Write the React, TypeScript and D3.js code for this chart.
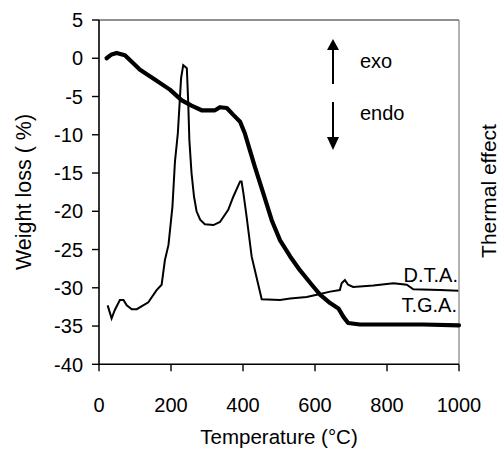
import React from "react";
import * as d3 from "d3";

const xTicks = [0, 200, 400, 600, 800, 1000];
const yTicks = [5, 0, -5, -10, -15, -20, -25, -30, -35, -40];

const tgaTemp = [21, 35, 49, 72, 114, 156, 197, 230, 257, 285, 322, 336, 355, 373, 392, 405, 419, 433, 456, 480, 503, 531, 558, 591, 614, 642, 665, 679, 692, 725, 800, 900, 1000];
const tgaWeight = [0, 0.5, 0.7, 0.4, -1.5, -2.8, -4.1, -5.5, -6.2, -6.8, -6.8, -6.4, -6.5, -7.4, -8.3, -9.8, -12, -14.2, -17.6, -21.2, -23.8, -25.9, -27.7, -29.6, -30.9, -32, -32.7, -33.8, -34.6, -34.8, -34.8, -34.8, -34.9];

const dtaTemp = [24, 35, 44, 58, 68, 77, 91, 105, 137, 160, 174, 183, 193, 204, 211, 219, 228, 234, 244, 248, 251, 257, 264, 271, 281, 294, 318, 336, 359, 373, 392, 396, 401, 410, 424, 433, 452, 503, 531, 577, 605, 642, 669, 674, 683, 692, 706, 762, 818, 855, 873, 947, 998];
const dtaValue = [-32.3, -34, -32.9, -31.6, -31.6, -32.3, -32.8, -32.8, -31.9, -30.3, -29.6, -26.4, -24.4, -19.4, -13.5, -9.8, -2.6, -0.9, -1.3, -6, -10.7, -15, -18.1, -20, -21.1, -21.7, -21.8, -21.4, -19.8, -18.1, -16.1, -16.1, -17.6, -20.7, -25.9, -27.7, -31.5, -31.6, -31.4, -31.2, -30.9, -30.5, -30.3, -29.4, -29, -29.6, -29.9, -29.7, -29.4, -29.6, -30.2, -30.3, -30.4];

const W = 501;
const H = 449;
const left = 99;
const right = 459;
const top = 20;
const bottom = 364.3;
const font = "'Liberation Sans', Arial, sans-serif";

export default function App() {
  const x = d3.scaleLinear().domain([0, 1000]).range([left, right]);
  const y = d3.scaleLinear().domain([-40, 5]).range([bottom, top]);

  const tga = d3.line<number>().x((d, i) => x(tgaTemp[i])).y((d) => y(d))(tgaWeight) || "";
  const dta = d3.line<number>().x((d, i) => x(dtaTemp[i])).y((d) => y(d))(dtaValue) || "";

  const ax = x(650);
  return (
    <svg width={W} height={H} style={{ position: "absolute", left: 0, top: 0, background: "#fff" }} fontFamily={font}>
      {/* frame */}
      <line x1={left} x2={right} y1={top} y2={top} stroke="#222" strokeWidth={1} />
      <line x1={right} x2={right} y1={top} y2={bottom} stroke="#666" strokeWidth={1} />
      {/* curves */}
      <path d={dta} fill="none" stroke="#000" strokeWidth={2} strokeLinejoin="miter" />
      <path d={tga} fill="none" stroke="#000" strokeWidth={4.2} strokeLinejoin="round" strokeLinecap="round" />
      {/* axes */}
      <line x1={left} x2={left} y1={top} y2={bottom} stroke="#000" strokeWidth={1.6} />
      <line x1={left} x2={right} y1={bottom} y2={bottom} stroke="#000" strokeWidth={1.6} />
      {yTicks.map((t) => (
        <g key={"y" + t}>
          <line x1={left - 7} x2={left} y1={y(t)} y2={y(t)} stroke="#000" strokeWidth={1.4} />
          <text x={left - 16} y={y(t)} dy="0.36em" textAnchor="end" fontSize={20} fill="#000">{t}</text>
        </g>
      ))}
      {xTicks.map((t) => (
        <g key={"x" + t}>
          <line x1={x(t)} x2={x(t)} y1={bottom} y2={bottom + 7} stroke="#000" strokeWidth={1.4} />
          <text x={x(t)} y={412} textAnchor="middle" fontSize={20} fill="#000">{t}</text>
        </g>
      ))}
      {/* axis titles */}
      <text x={279} y={444} textAnchor="middle" fontSize={20.5} fill="#000">Temperature (°C)</text>
      <text transform={`translate(31,192) rotate(-90)`} textAnchor="middle" fontSize={21.5} fill="#000">Weight loss ( %)</text>
      <text transform={`translate(496,191) rotate(-90)`} textAnchor="middle" fontSize={21} fill="#000">Thermal effect</text>
      {/* exo / endo arrows */}
      <line x1={ax} x2={ax} y1={84} y2={50} stroke="#000" strokeWidth={2} />
      <polygon points={`${ax - 6},${50} ${ax + 6},${50} ${ax},${39}`} fill="#000" />
      <line x1={ax} x2={ax} y1={102} y2={137} stroke="#000" strokeWidth={2} />
      <polygon points={`${ax - 6},${137} ${ax + 6},${137} ${ax},${150}`} fill="#000" />
      <text x={x(725)} y={68} fontSize={20} fill="#000">exo</text>
      <text x={x(725)} y={120} fontSize={20} fill="#000">endo</text>
      {/* series labels */}
      <text x={458} y={282} textAnchor="end" fontSize={20} fill="#000">D.T.A.</text>
      <text x={457} y={312} textAnchor="end" fontSize={20} fill="#000">T.G.A.</text>
    </svg>
  );
}
